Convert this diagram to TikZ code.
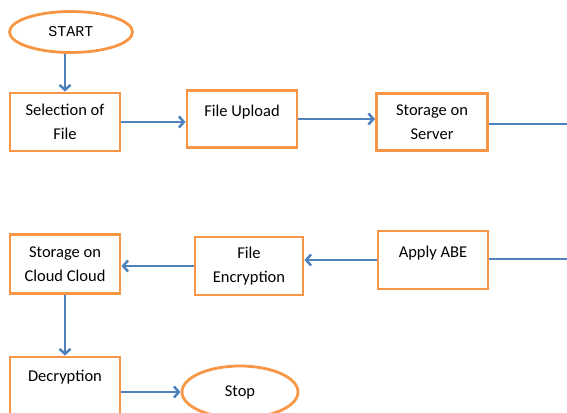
\documentclass[tikz,border=0pt]{standalone}
\usepackage{fontspec}
\setmainfont{Carlito}
\newfontfamily\startfont{Liberation Mono}
\usetikzlibrary{arrows.meta,shapes.geometric}
\definecolor{boxorange}{HTML}{F79646}
\definecolor{arrowblue}{HTML}{4F81BD}
\begin{document}
\begin{tikzpicture}[x=1pt,y=-1pt,
  box/.style={draw=boxorange,line width=2.8pt,rectangle,minimum width=110pt,minimum height=58pt,inner sep=0pt,align=center,font=\fontsize{16.5}{24}\selectfont},
  oval/.style={draw=boxorange,line width=2.8pt,ellipse,inner sep=0pt},
  lbl/.style={inner sep=0pt,font=\fontsize{16.5}{24}\selectfont},
  flow/.style={draw=arrowblue,line width=2.8pt,-{Straight Barb[length=5pt,width=11pt,line width=2.5pt]}},
  thin/.style={draw=arrowblue,line width=1.4pt}]
\useasboundingbox (0,0) rectangle (567,412);
\clip (0,0) rectangle (567,412);
\node[oval,minimum width=123pt,minimum height=41pt] (start) at (71,32) {\startfont\fontsize{15}{18}\selectfont START};
\node[box] (sel) at (65,122) {Selection of\\File};
\node[box,minimum height=57pt] (up) at (242,119) {};
\node[lbl] (uptext) at (242,112) {File Upload};
\node[box,minimum width=111pt,minimum height=57pt] (srv) at (432,122) {Storage on\\Server};
\coordinate (e1) at (567,124);
\node[box,minimum height=58pt] (abe) at (433,260) {};
\node[lbl] (abetext) at (433,253) {Apply ABE};
\coordinate (e2) at (567,259);
\node[box,minimum width=108pt] (enc) at (249,266) {File\\Encryption};
\node[box,minimum height=59pt] (cloud) at (65,264) {Storage on\\Cloud Cloud};
\node[box,minimum height=74pt] (dec) at (65,394) {};
\node[lbl] (dectext) at (65,377) {Decryption};
\node[oval,minimum width=116pt,minimum height=52pt,font=\fontsize{16.5}{18}\selectfont] (stop) at (240,392) {Stop};
\draw[flow] (start.south -| sel.north) -- (sel.north);
\draw[flow] (sel.east) -- (sel.east -| up.west);
\draw[flow] (up.east) -- (up.east -| srv.west);
\draw[thin] (srv.east |- e1) -- (e1);
\draw[thin] (abe.east |- e2) -- (e2);
\draw[flow] (abe.west) -- (abe.west -| enc.east);
\draw[flow] (enc.west) -- (enc.west -| cloud.east);
\draw[flow] (cloud.south) -- (dec.north);
\draw[flow] (stop.west -| dec.east) -- (stop.west);
\end{tikzpicture}
\end{document}
